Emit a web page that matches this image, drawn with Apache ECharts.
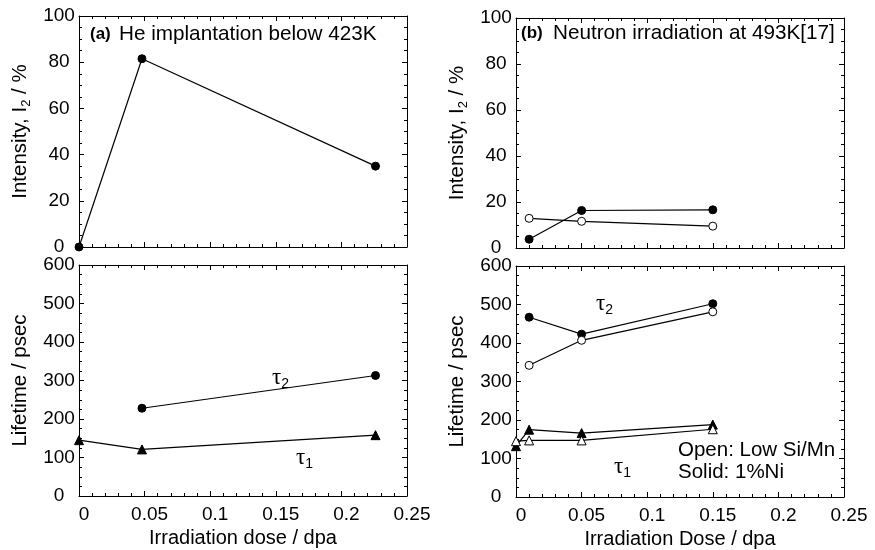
<!DOCTYPE html>
<html>
<head>
<meta charset="utf-8">
<title>Positron lifetime vs dose</title>
<script src="https://cdn.jsdelivr.net/npm/echarts@6/dist/echarts.min.js"></script>
<style>
  html, body { margin:0; padding:0; background:#fff; }
  #main { width:875px; height:550px; }
</style>
</head>
<body>
<div id="main"></div>
<script>
// (a) He implantation below 423K
var doseA = [0, 0.048, 0.226];
var intensityA = [0, 81.5, 35];
var doseTau2A = [0.048, 0.226];
var tau2A = [228, 313];
var tau1A = [145, 121, 158];

// (b) Neutron irradiation at 493K, open = low Si/Mn, solid = 1%Ni
var doseB = [0.01, 0.05, 0.15];
var intensityNi = [3.8, 16.3, 16.6];
var intensityLow = [12.9, 11.6, 9.5];
var tau2Ni = [467, 423, 502];
var tau2Low = [342, 407, 481];
var doseTau1B = [0, 0.01, 0.05, 0.15];
var tau1Ni = [132, 175, 166, 188];
var tau1Low = [145, 147, 147, 176];

var FONT = 'Liberation Sans, Arial, sans-serif';

function zip(xs, ys) {
  return xs.map(function (x, i) { return [x, ys[i]]; });
}

var grids = [
  {left: 79, top: 16, width: 328, height: 231},   // a top
  {left: 79, top: 265, width: 328, height: 231},  // a bottom
  {left: 516, top: 18, width: 328, height: 230},  // b top
  {left: 516, top: 266, width: 328, height: 231}  // b bottom
];

function ticks(split) {
  return {
    axisLine: {show: true, onZero: false, lineStyle: {color: '#000', width: 1}},
    axisTick: {show: true, inside: true, length: 5, lineStyle: {color: '#000'}},
    minorTick: {show: true, splitNumber: split, length: 3, lineStyle: {color: '#000'}},
    splitLine: {show: false}
  };
}

function xAxisFor(grid, pos, name) {
  var a = ticks(5);
  a.type = 'value';
  a.gridIndex = grid;
  a.position = pos;
  a.min = 0; a.max = 0.25; a.interval = 0.05;
  a.axisLabel = {show: !!name, fontSize: 19, fontFamily: FONT, color: '#000', margin: 9,
                 padding: [0, 0, 0, 10], showMinLabel: true, showMaxLabel: true};
  if (name) {
    a.name = name;
    a.nameLocation = 'middle';
    a.nameGap = 32;
    a.nameTextStyle = {fontSize: 20, fontFamily: FONT, color: '#000'};
  }
  return a;
}

function yAxisFor(grid, pos, max, interval, name) {
  var a = ticks(4);
  a.type = 'value';
  a.gridIndex = grid;
  a.position = pos;
  a.min = 0; a.max = max; a.interval = interval;
  a.axisLabel = {show: !!name, fontSize: 19, fontFamily: FONT, color: '#000', margin: 20,
                 align: 'center', showMinLabel: true, showMaxLabel: true};
  if (name) {
    a.name = name;
    a.nameLocation = 'middle';
    a.nameGap = 46;
    a.nameTextStyle = {
      fontFamily: FONT, color: '#000',
      rich: {
        t: {fontSize: 20.5, lineHeight: 25, fontFamily: FONT, color: '#000'},
        s: {fontSize: 13, lineHeight: 13, verticalAlign: 'bottom', fontFamily: FONT, color: '#000'}
      }
    };
  }
  return a;
}

var intensityName = '{t|Intensity, I}{s|2}{t| / %}';
var lifetimeName = '{t|Lifetime / psec}';

var xAxes = [
  xAxisFor(0, 'bottom'), xAxisFor(0, 'top'),
  xAxisFor(1, 'bottom', 'Irradiation dose / dpa'), xAxisFor(1, 'top'),
  xAxisFor(2, 'bottom'), xAxisFor(2, 'top'),
  xAxisFor(3, 'bottom', 'Irradiation Dose / dpa'), xAxisFor(3, 'top')
];
var yAxes = [
  yAxisFor(0, 'left', 100, 20, intensityName), yAxisFor(0, 'right', 100, 20),
  yAxisFor(1, 'left', 600, 100, lifetimeName), yAxisFor(1, 'right', 600, 100),
  yAxisFor(2, 'left', 100, 20, intensityName), yAxisFor(2, 'right', 100, 20),
  yAxisFor(3, 'left', 600, 100, lifetimeName), yAxisFor(3, 'right', 600, 100)
];

function line(grid, data, symbol, open) {
  return {
    type: 'line',
    xAxisIndex: grid * 2,
    yAxisIndex: grid * 2,
    data: data,
    symbol: symbol,
    symbolSize: symbol === 'triangle' ? 9 : 8,
    clip: false,
    silent: true,
    animation: false,
    lineStyle: {color: '#000', width: 1.2},
    itemStyle: {color: open ? '#fff' : '#000', borderColor: '#000', borderWidth: 1}
  };
}

var series = [
  line(0, zip(doseA, intensityA), 'circle', false),
  line(1, zip(doseTau2A, tau2A), 'circle', false),
  line(1, zip(doseA, tau1A), 'triangle', false),
  line(2, zip(doseB, intensityNi), 'circle', false),
  line(2, zip(doseB, intensityLow), 'circle', true),
  line(3, zip(doseB, tau2Ni), 'circle', false),
  line(3, zip(doseB, tau2Low), 'circle', true),
  line(3, zip(doseTau1B, tau1Ni), 'triangle', false),
  line(3, zip(doseTau1B, tau1Low), 'triangle', true)
];

function label(x, y, text, size, bold) {
  return {type: 'text', x: x, y: y, z: 10,
    style: {text: text, fill: '#000', verticalAlign: 'middle',
            font: (bold ? 'bold ' : '') + size + 'px ' + FONT}};
}
function tau(x, y, sub) {
  return {type: 'text', x: x, y: y, z: 10,
    style: {text: '{t|τ}{s|' + sub + '}', verticalAlign: 'middle',
      rich: {
        t: {fontSize: 23, lineHeight: 26, fontFamily: 'Liberation Serif, serif', fill: '#000'},
        s: {fontSize: 14, lineHeight: 14, verticalAlign: 'bottom', fontFamily: FONT, fill: '#000'}
      }}};
}

var chart = echarts.init(document.getElementById('main'));
chart.setOption({
  backgroundColor: '#fff',
  animation: false,
  grid: grids,
  xAxis: xAxes,
  yAxis: yAxes,
  series: series,
  graphic: [
    label(90, 34, '(a)', 17, true),
    label(119, 34, 'He implantation below 423K', 20.7),
    label(521, 33, '(b)', 17, true),
    label(553, 33, 'Neutron irradiation at 493K[17]', 20.7),
    label(678, 450, 'Open: Low Si/Mn', 20.5),
    label(678, 472, 'Solid: 1%Ni', 20.5),
    tau(272, 378, 2),
    tau(296, 458, 1),
    tau(596, 304, 2),
    tau(614, 467, 1)
  ]
});
</script>
</body>
</html>
